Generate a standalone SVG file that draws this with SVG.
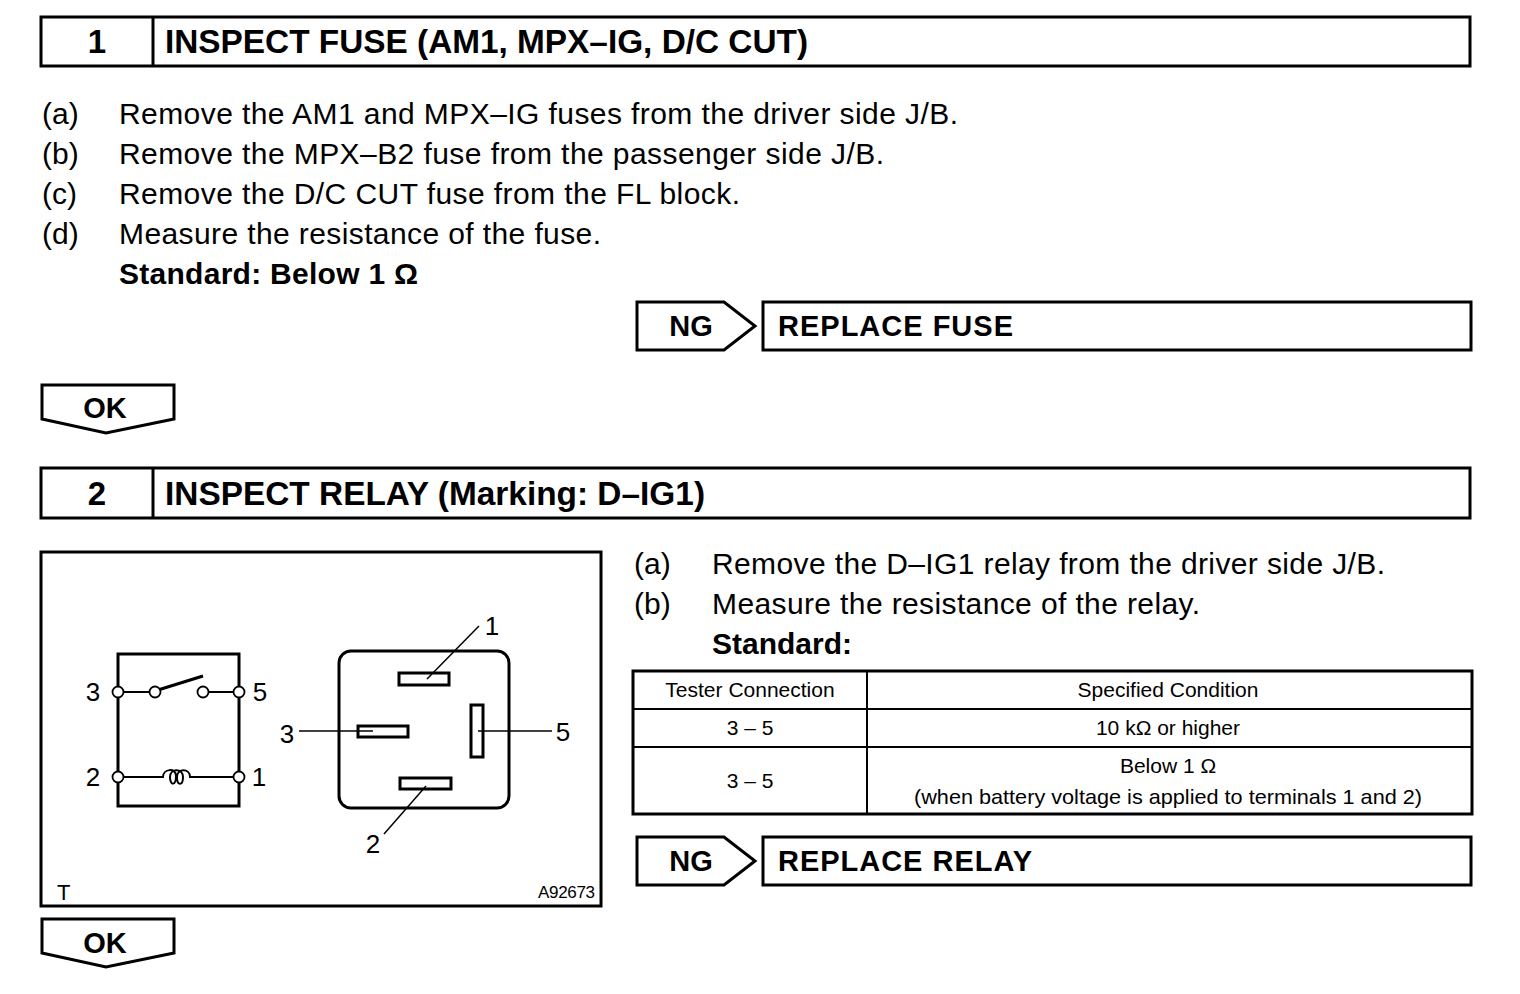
<svg xmlns="http://www.w3.org/2000/svg" width="1520" height="994" viewBox="0 0 1520 994">
<style>
  text { font-family: "Liberation Sans", Arial, Helvetica, sans-serif; fill: #000; }
  .title { font-size: 33px; font-weight: bold; }
  .body { font-size: 30px; }
  .bold { font-size: 30px; font-weight: bold; }
  .tag { font-size: 29px; font-weight: bold; }
  .tbl { font-size: 21px; }
  .lbl { font-size: 26px; }
  .box { fill: #fff; stroke: #000; stroke-width: 3; }
  .thin { fill: none; stroke: #000; stroke-width: 2; }
  .lead { fill: none; stroke: #000; stroke-width: 1.5; }
  .term { fill: #fff; stroke: #000; stroke-width: 1.8; }
</style>
<rect width="1520" height="994" fill="#fff"/>

<g id="step1-header">
  <rect class="box" x="41" y="17" width="1429" height="49"/>
  <line x1="153" y1="17" x2="153" y2="66" stroke="#000" stroke-width="3"/>
  <text class="title" x="97" y="53" text-anchor="middle">1</text>
  <text class="title" x="165" y="53" textLength="643" lengthAdjust="spacingAndGlyphs">INSPECT FUSE (AM1, MPX–IG, D/C CUT)</text>
</g>

<g id="step1-text">
  <text class="body" x="42" y="124">(a)</text>
  <text class="body" x="119" y="124" textLength="839" lengthAdjust="spacing">Remove the AM1 and MPX–IG fuses from the driver side J/B.</text>
  <text class="body" x="42" y="164">(b)</text>
  <text class="body" x="119" y="164" textLength="765" lengthAdjust="spacing">Remove the MPX–B2 fuse from the passenger side J/B.</text>
  <text class="body" x="42" y="204">(c)</text>
  <text class="body" x="119" y="204" textLength="621" lengthAdjust="spacing">Remove the D/C CUT fuse from the FL block.</text>
  <text class="body" x="42" y="244">(d)</text>
  <text class="body" x="119" y="244" textLength="482" lengthAdjust="spacing">Measure the resistance of the fuse.</text>
  <text class="bold" x="119" y="284" textLength="299" lengthAdjust="spacing">Standard: Below 1 Ω</text>
</g>

<g id="ng1">
  <path class="box" d="M637,302 H724 L755,326 L724,350 H637 Z"/>
  <text class="tag" x="691" y="336" text-anchor="middle">NG</text>
</g>
<g id="replace-fuse">
  <rect class="box" x="763" y="302" width="708" height="48"/>
  <text class="tag" x="778" y="336" textLength="235" lengthAdjust="spacing">REPLACE FUSE</text>
</g>

<g id="ok1">
  <path class="box" d="M42,385 H174 V419 L106,433 L42,419 Z"/>
  <text class="tag" x="105" y="418" text-anchor="middle">OK</text>
</g>

<g id="step2-header">
  <rect class="box" x="41" y="468" width="1429" height="50"/>
  <line x1="153" y1="468" x2="153" y2="518" stroke="#000" stroke-width="3"/>
  <text class="title" x="97" y="505" text-anchor="middle">2</text>
  <text class="title" x="165" y="505" textLength="540" lengthAdjust="spacingAndGlyphs">INSPECT RELAY (Marking: D–IG1)</text>
</g>

<g id="relay-figure">
  <rect class="box" x="41" y="552" width="560" height="354"/>
  <rect x="118" y="654" width="121" height="152" fill="none" stroke="#000" stroke-width="3"/>
  <line class="thin" x1="118" y1="692" x2="155" y2="692"/>
  <line class="thin" x1="203" y1="692" x2="239" y2="692"/>
  <line x1="158" y1="690" x2="203" y2="676" stroke="#000" stroke-width="3"/>
  <path class="thin" d="M118,777 H163 C163,769 176,767 176,776 C176,786 170,786 170,777 C170,768 183,768 183,777 C183,786 177,786 177,777 C177,768 190,768 190,777 H239"/>
  <circle class="term" cx="118" cy="692" r="5.5"/>
  <circle class="term" cx="239" cy="692" r="5.5"/>
  <circle class="term" cx="155" cy="692" r="5.5"/>
  <circle class="term" cx="203" cy="692" r="5.5"/>
  <circle class="term" cx="118" cy="777" r="5.5"/>
  <circle class="term" cx="239" cy="777" r="5.5"/>
  <text class="lbl" x="93" y="701" text-anchor="middle">3</text>
  <text class="lbl" x="260" y="701" text-anchor="middle">5</text>
  <text class="lbl" x="93" y="786" text-anchor="middle">2</text>
  <text class="lbl" x="259" y="786" text-anchor="middle">1</text>
  <rect x="339" y="651" width="170" height="157" rx="12" fill="none" stroke="#000" stroke-width="3"/>
  <rect class="box" x="399" y="673" width="50" height="12"/>
  <rect class="box" x="358" y="726" width="50" height="11"/>
  <rect class="box" x="471" y="705" width="12" height="52"/>
  <rect class="box" x="400" y="778" width="51" height="11"/>
  <line class="lead" x1="427" y1="679" x2="479" y2="626"/>
  <line class="lead" x1="299" y1="731" x2="373" y2="731"/>
  <line class="lead" x1="478" y1="731" x2="552" y2="731"/>
  <line class="lead" x1="426" y1="786" x2="384" y2="834"/>
  <text class="lbl" x="492" y="635" text-anchor="middle">1</text>
  <text class="lbl" x="287" y="743" text-anchor="middle">3</text>
  <text class="lbl" x="563" y="741" text-anchor="middle">5</text>
  <text class="lbl" x="373" y="853" text-anchor="middle">2</text>
  <text x="57" y="900" style="font-size:22px">T</text>
  <text x="595" y="898" text-anchor="end" style="font-size:17px" textLength="57" lengthAdjust="spacing">A92673</text>
</g>

<g id="step2-text">
  <text class="body" x="634" y="574">(a)</text>
  <text class="body" x="712" y="574" textLength="673" lengthAdjust="spacing">Remove the D–IG1 relay from the driver side J/B.</text>
  <text class="body" x="634" y="614">(b)</text>
  <text class="body" x="712" y="614" textLength="488" lengthAdjust="spacing">Measure the resistance of the relay.</text>
  <text class="bold" x="712" y="654" textLength="140" lengthAdjust="spacing">Standard:</text>
</g>

<g id="spec-table">
  <rect x="633" y="671" width="839" height="143" fill="none" stroke="#000" stroke-width="3"/>
  <line class="thin" x1="867" y1="671" x2="867" y2="814"/>
  <line class="thin" x1="633" y1="709" x2="1472" y2="709"/>
  <line class="thin" x1="633" y1="747" x2="1472" y2="747"/>
  <text class="tbl" x="750" y="697" text-anchor="middle">Tester Connection</text>
  <text class="tbl" x="1168" y="697" text-anchor="middle">Specified Condition</text>
  <text class="tbl" x="750" y="735" text-anchor="middle">3 – 5</text>
  <text class="tbl" x="1168" y="735" text-anchor="middle">10 kΩ or higher</text>
  <text class="tbl" x="750" y="788" text-anchor="middle">3 – 5</text>
  <text class="tbl" x="1168" y="773" text-anchor="middle">Below 1 Ω</text>
  <text class="tbl" x="1168" y="804" text-anchor="middle" textLength="508" lengthAdjust="spacingAndGlyphs">(when battery voltage is applied to terminals 1 and 2)</text>
</g>

<g id="ng2">
  <path class="box" d="M637,837 H724 L755,861 L724,885 H637 Z"/>
  <text class="tag" x="691" y="871" text-anchor="middle">NG</text>
</g>
<g id="replace-relay">
  <rect class="box" x="763" y="837" width="708" height="48"/>
  <text class="tag" x="778" y="871" textLength="254" lengthAdjust="spacing">REPLACE RELAY</text>
</g>

<g id="ok2">
  <path class="box" d="M42,919 H174 V953 L106,967 L42,953 Z"/>
  <text class="tag" x="105" y="953" text-anchor="middle">OK</text>
</g>

<g id="connectors"></g>
</svg>
